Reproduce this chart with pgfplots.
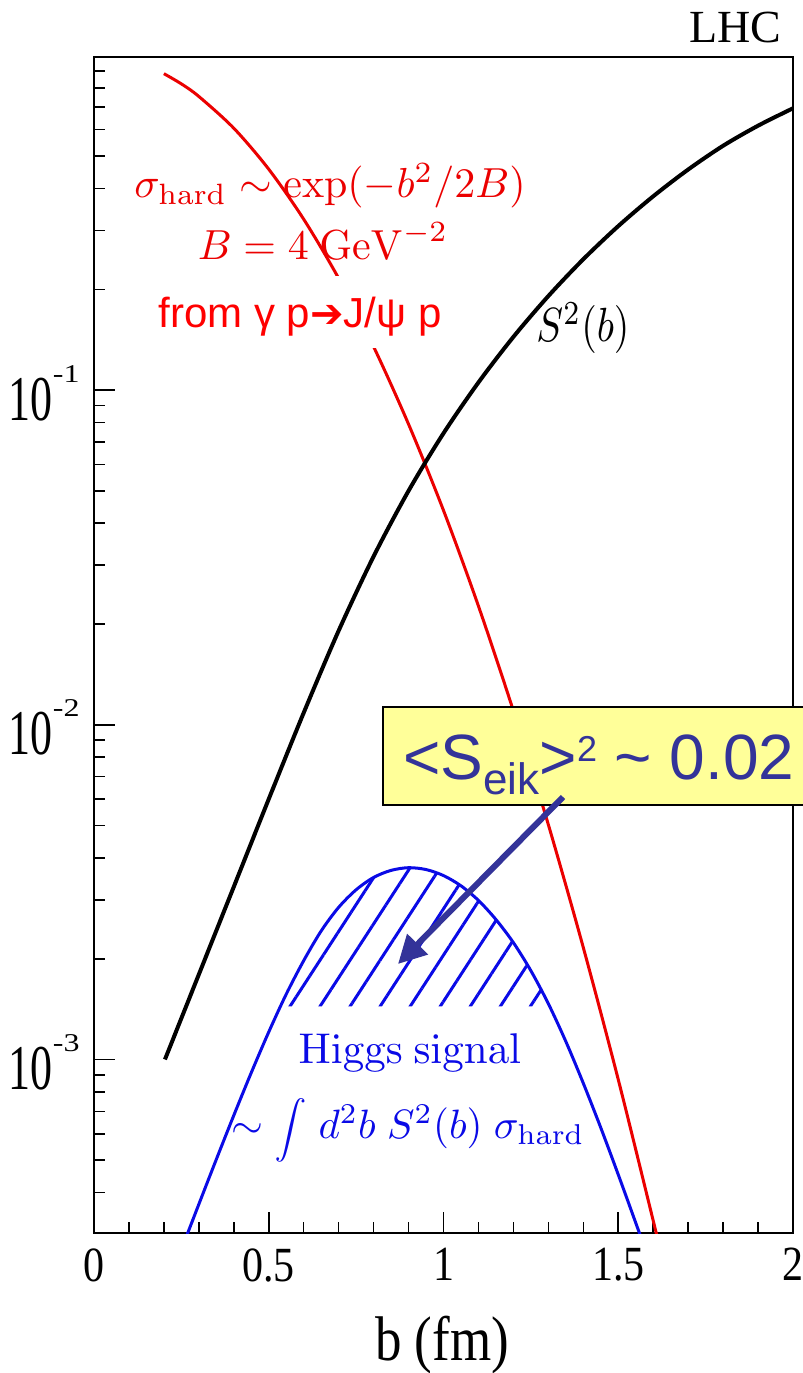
\documentclass[border=0pt]{standalone}
\usepackage{fix-cm}
\usepackage{exscale}
\usepackage{graphicx}
\usepackage[no-math]{fontspec}
\setmainfont{Liberation Serif}
\newfontfamily\arial{Liberation Sans}
\newfontfamily\dejavu{DejaVu Sans}
\usepackage{pgfplots}
\pgfplotsset{compat=1.18}
\usetikzlibrary{patterns.meta,arrows.meta}
\definecolor{navy}{RGB}{51,51,153}
\definecolor{boxyellow}{RGB}{255,255,153}
\definecolor{cblue}{RGB}{10,10,230}
\definecolor{cred}{RGB}{235,0,0}
\newcommand{\ylab}[1]{\scalebox{1}[1.45]{\fontsize{22}{22}\selectfont 10}\raisebox{19pt}{\scalebox{1}[0.8]{\fontsize{16}{16}\selectfont #1}}}
\newcommand{\xl}[1]{\scalebox{1}[1.17]{\fontsize{21}{21}\selectfont #1}}
\newcommand{\cm}[3]{\scalebox{#1}[#2]{\fontsize{10}{12}\selectfont #3}}
\begin{document}
\begin{tikzpicture}
\begin{axis}[name=ax, scale only axis, width=349.5pt, height=588pt,
  xmin=0, xmax=2, ymode=log, ymin=3.03e-4, ymax=0.989,
  xtick={0,0.5,1,1.5,2}, xticklabels={\xl{0},\xl{0.5},\xl{1},\xl{1.5},\xl{2}},
  minor x tick num=4,
  ytick={0.001,0.01,0.1}, yticklabels={\ylab{-3},\ylab{-2},\ylab{-1}},
  minor ytick={4e-4,5e-4,6e-4,7e-4,8e-4,9e-4,2e-3,3e-3,4e-3,5e-3,6e-3,7e-3,8e-3,9e-3,2e-2,3e-2,4e-2,5e-2,6e-2,7e-2,8e-2,9e-2,0.2,0.3,0.4,0.5,0.6,0.7,0.8,0.9},
  xtick pos=bottom, ytick pos=left,
  major tick length=10.5pt, minor tick length=5.5pt,
  tick style={black, line width=0.8pt},
  axis line style={line width=1pt},
  xticklabel style={anchor=north, inner sep=0pt, yshift=-7.5pt},
  yticklabel style={anchor=base east, inner sep=0pt, xshift=-7pt, yshift=-15pt},
]
% sigma_hard
\addplot[cred, line width=1.5pt, smooth] coordinates {
(0.20,0.882) (0.25,0.822) (0.30,0.754) (0.40,0.606) (0.50,0.457) (0.60,0.324)
(0.70,0.2157) (0.80,0.1348) (0.90,0.0791) (1.00,0.0437) (1.10,0.02263)
(1.20,0.0110) (1.30,0.00503) (1.40,0.00216) (1.50,0.000871) (1.60,0.000330) (1.63,0.000244)};
% S^2(b)
\addplot[black, line width=2pt, smooth] coordinates {
(0.203,1.000e-3) (0.3,1.795e-3) (0.4,3.281e-3) (0.5,5.998e-3) (0.6,1.086e-2)
(0.7,1.910e-2) (0.8,3.184e-2) (0.9,5.000e-2) (1.0,7.430e-2) (1.1,0.1054)
(1.2,0.1442) (1.3,0.1910) (1.4,0.2460) (1.5,0.3090) (1.6,0.3793)
(1.7,0.4560) (1.8,0.5370) (1.9,0.6166) (2.0,0.6950)};
% hatched region
\addplot[draw=none, pattern={Lines[angle=57,distance=12.6pt,line width=1.5pt,yshift=6.3pt]}, pattern color=cblue] coordinates {
(0.534,1.44e-3) (0.55,1.567e-3) (0.60,1.974e-3) (0.65,2.421e-3) (0.70,2.848e-3)
(0.75,3.214e-3) (0.80,3.498e-3) (0.85,3.673e-3) (0.90,3.741e-3) (0.95,3.694e-3)
(1.00,3.544e-3) (1.05,3.303e-3) (1.10,2.987e-3) (1.15,2.619e-3) (1.20,2.234e-3)
(1.25,1.842e-3) (1.30,1.468e-3) (1.304,1.44e-3)};
% Higgs signal
\addplot[cblue, line width=1.5pt, smooth] coordinates {
(0.25,2.704e-4) (0.30,3.694e-4) (0.35,5.029e-4) (0.40,6.808e-4) (0.45,9.131e-4)
(0.50,1.208e-3) (0.55,1.567e-3) (0.60,1.974e-3) (0.65,2.421e-3) (0.70,2.848e-3)
(0.75,3.214e-3) (0.80,3.498e-3) (0.85,3.673e-3) (0.90,3.741e-3) (0.95,3.694e-3)
(1.00,3.544e-3) (1.05,3.303e-3) (1.10,2.987e-3) (1.15,2.619e-3) (1.20,2.234e-3)
(1.25,1.842e-3) (1.30,1.468e-3) (1.35,1.132e-3) (1.40,8.492e-4) (1.45,6.252e-4)
(1.50,4.529e-4) (1.55,3.251e-4) (1.60,2.328e-4)};
\end{axis}
\begin{scope}[shift={(ax.south west)}, xshift=-47pt, yshift=616.5pt, x=0.5pt, y=-0.5pt]
\node[anchor=base east, inner sep=0pt] at (782,43) {\fontsize{23}{23}\selectfont LHC};
\node[anchor=base, inner sep=0pt, text=cred] at (330,198) {\cm{2.1}{2.1}{$\sigma_{\mathrm{hard}}\sim\exp(-b^2/2B)$}};
\node[anchor=base, inner sep=0pt, text=cred] at (323,260) {\cm{2.1}{2.1}{$B=4\ \mathrm{GeV}^{-2}$}};
\node[anchor=base, inner ysep=0pt, inner xsep=3pt, fill=white, text height=26pt, text depth=10pt, text=red] at (300,328) {\arial\fontsize{21}{21}\selectfont from γ p{\dejavu\bfseries\fontsize{20}{20}\selectfont ➔}J/ψ p};
\node[anchor=base, inner sep=0pt] at (583,342) {\cm{2.0}{2.4}{$S^2(b)$}};
\node[anchor=base, inner sep=0pt, text=cblue] at (410,1063) {\cm{2.15}{2.15}{$\mathrm{Higgs\ signal}$}};
\node[anchor=base, inner sep=0pt, text=cblue] at (408,1138) {\cm{2.05}{2.05}{$\sim$\;{\fontsize{7}{7}\selectfont$\displaystyle\int$}\;$d^2b\;S^2(b)\;\sigma_{\mathrm{hard}}$}};
\node[anchor=base, inner sep=0pt] at (442,1360) {\scalebox{1}[1.19]{\fontsize{26.5}{26.5}\selectfont b (fm)}};
% yellow box
\fill[boxyellow] (383,707) rectangle (815,805);
\draw[black, line width=1pt] (815,707) -- (383,707) -- (383,805) -- (815,805);
\node[anchor=base west, inner sep=0pt, text=navy] at (403,780) {\arial\fontsize{32}{32}\selectfont <S\raisebox{-7.5pt}{\fontsize{22}{22}\selectfont eik}>\raisebox{9pt}{\fontsize{18}{18}\selectfont 2} \textasciitilde{} 0.02};
\draw[navy, line width=3pt, -{Triangle[length=14pt,width=14pt]}] (563,797) -- (398,964);
\pgfresetboundingbox
\path[use as bounding box] (0,0) rectangle (803,1373);
\end{scope}
\end{tikzpicture}
\end{document}
